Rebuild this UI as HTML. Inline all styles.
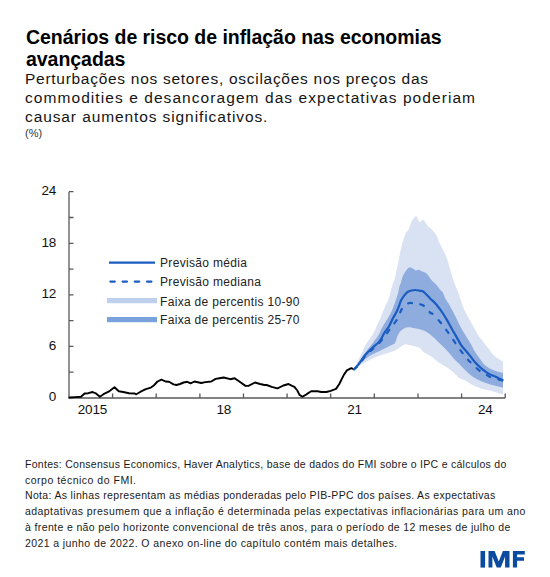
<!DOCTYPE html>
<html><head><meta charset="utf-8">
<style>
html,body{margin:0;padding:0;background:#fff;}
body{width:550px;height:577px;position:relative;overflow:hidden;font-family:"Liberation Sans",sans-serif;color:#111;}
.t{position:absolute;white-space:pre;left:0;top:0;}
#title{font-weight:bold;font-size:19.5px;line-height:22px;color:#000;letter-spacing:-0.04px;}
.sub{font-size:15.5px;line-height:18px;color:#151515;letter-spacing:0.85px;}
.foot{font-size:10.5px;line-height:16px;color:#1a1a1a;letter-spacing:0.27px;}
.lg{font-size:12px;color:#222;letter-spacing:0.32px;}
.ax{font-size:13.5px;color:#111;line-height:15px;letter-spacing:-0.2px;}
.yl{left:16px;width:40px;text-align:right;}
.xl{width:40px;text-align:center;}
svg{position:absolute;left:0;top:0;}
</style></head><body>
<div class="t" id="title" style="left:26px;top:26px;">Cenários de risco de inflação nas economias
avançadas</div>
<div class="t sub" style="left:25px;top:70px;letter-spacing:0.72px;">Perturbações nos setores, oscilações nos preços das</div>
<div class="t sub" style="left:25px;top:89px;letter-spacing:1.07px;">commodities e desancoragem das expectativas poderiam</div>
<div class="t sub" style="left:25px;top:108px;letter-spacing:0.9px;">causar aumentos significativos.</div>
<div class="t" style="left:25px;top:127px;font-size:11px;color:#333;">(%)</div>

<svg width="550" height="577" viewBox="0 0 550 577">
<path fill="#d9e2f3" d="M354.0,369.3 C355.4,366.3 360.4,355.8 362.4,351.5 C364.4,347.2 364.4,346.7 366.2,343.8 C367.9,340.9 370.7,338.3 372.9,334.3 C375.1,330.3 377.6,324.6 379.6,320.0 C381.6,315.4 383.4,310.4 385.0,306.8 C386.6,303.2 387.7,301.8 388.9,298.2 C390.1,294.6 391.4,288.4 392.4,285.0 C393.4,281.6 394.0,281.8 395.0,277.8 C396.0,273.8 397.4,266.6 398.5,261.1 C399.6,255.7 400.9,249.0 401.8,245.1 C402.7,241.2 403.4,239.8 404.1,237.7 C404.8,235.6 405.1,234.1 405.9,232.7 C406.6,231.3 407.8,231.1 408.6,229.5 C409.4,227.9 410.1,224.9 410.9,223.2 C411.7,221.5 412.3,220.3 413.2,219.1 C414.1,217.9 415.4,216.2 416.1,216.1 C416.9,216.0 417.1,217.6 417.7,218.6 C418.2,219.6 418.8,221.7 419.4,222.1 C420.0,222.5 420.7,221.3 421.4,220.9 C422.1,220.5 422.8,219.2 423.6,219.7 C424.4,220.2 425.6,222.9 426.4,224.1 C427.2,225.3 427.5,225.7 428.6,226.8 C429.7,227.9 432.1,229.7 433.2,230.9 C434.3,232.1 434.8,232.9 435.5,234.1 C436.2,235.3 436.9,236.4 437.7,238.2 C438.5,240.0 439.3,242.5 440.5,245.0 C441.7,247.5 443.6,250.6 444.7,253.1 C445.8,255.6 446.4,257.0 447.4,260.0 C448.4,263.0 449.5,267.3 450.6,270.9 C451.7,274.5 452.6,278.1 453.9,281.8 C455.2,285.5 456.8,288.5 458.5,293.1 C460.2,297.7 461.6,303.8 464.2,309.5 C466.8,315.2 471.7,323.2 474.0,327.5 C476.3,331.8 476.7,332.8 478.1,335.0 C479.5,337.2 480.9,338.8 482.2,340.5 C483.5,342.2 484.5,343.4 485.7,345.0 C486.9,346.6 488.3,348.3 489.6,350.0 C490.9,351.7 491.4,353.2 493.3,355.0 C495.2,356.8 499.4,359.4 501.0,360.5 C502.6,361.6 502.7,361.3 503.0,361.5 L503.0,394.5 C502.2,394.3 500.2,393.7 498.1,393.1 C496.0,392.5 493.2,391.4 490.5,390.7 C487.8,390.0 484.9,389.8 481.9,388.8 C478.9,387.9 475.1,386.4 472.4,385.0 C469.7,383.6 467.9,381.9 465.7,380.7 C463.5,379.5 461.1,379.4 459.1,378.0 C457.1,376.6 455.6,374.2 453.6,372.5 C451.6,370.8 449.6,369.3 447.1,367.6 C444.6,365.9 440.9,364.0 438.4,362.2 C435.8,360.4 434.2,358.3 431.8,356.7 C429.4,355.1 426.2,353.8 424.2,352.4 C422.2,350.9 421.2,349.0 419.8,348.0 C418.4,347.0 417.1,346.8 415.5,346.4 C413.9,345.9 411.8,345.6 410.0,345.3 C408.2,345.0 407.0,343.6 404.5,344.5 C402.0,345.4 398.5,348.9 395.0,350.5 C391.5,352.1 386.9,353.0 383.4,354.3 C379.9,355.6 377.0,356.7 373.8,358.1 C370.6,359.5 367.3,361.3 364.3,362.9 C361.3,364.5 357.4,366.6 355.7,367.7 C354.0,368.8 354.3,369.0 354.0,369.3 Z"/>
<path fill="#8eacdd" d="M354.0,369.3 C354.8,368.1 357.2,364.6 359.0,362.0 C360.8,359.4 362.5,356.4 364.7,353.4 C366.9,350.3 370.1,346.6 372.3,343.7 C374.5,340.8 376.4,338.5 377.9,336.1 C379.4,333.7 380.2,331.3 381.3,329.2 C382.4,327.1 383.4,325.4 384.5,323.5 C385.6,321.6 386.7,320.2 388.1,317.7 C389.5,315.2 391.2,312.2 392.8,308.4 C394.4,304.6 396.3,299.0 397.5,295.1 C398.7,291.2 399.3,286.9 399.8,285.0 C400.3,283.1 400.0,285.4 400.5,284.0 C401.0,282.6 401.7,278.6 402.6,276.4 C403.5,274.2 404.8,272.4 405.9,270.9 C407.0,269.4 408.1,268.1 409.2,267.6 C410.3,267.2 411.4,267.7 412.5,268.2 C413.6,268.7 414.7,270.1 415.7,270.4 C416.7,270.7 417.6,269.7 418.5,269.8 C419.4,269.9 419.8,270.3 421.2,270.9 C422.6,271.5 425.0,272.2 426.6,273.6 C428.2,275.1 429.4,277.7 431.0,279.6 C432.6,281.5 434.9,283.3 436.5,285.1 C438.1,286.9 439.7,289.2 440.8,290.5 C441.9,291.8 442.3,291.4 443.0,292.7 C443.7,294.0 444.3,296.4 445.2,298.2 C446.1,300.0 447.2,301.4 448.5,303.6 C449.8,305.8 451.7,309.3 452.8,311.3 C453.9,313.3 453.6,312.9 455.0,315.6 C456.4,318.3 458.3,322.8 460.9,327.5 C463.5,332.2 468.5,339.9 470.7,343.8 C472.9,347.7 472.9,348.4 474.3,350.7 C475.7,353.0 477.2,355.0 479.0,357.4 C480.8,359.8 482.7,363.0 484.8,365.0 C486.9,367.0 489.2,368.2 491.4,369.3 C493.6,370.4 496.2,371.1 498.1,371.7 C500.0,372.3 502.2,372.6 503.0,372.8 L503.0,387.4 C501.9,387.2 498.6,386.6 496.2,386.0 C493.8,385.4 491.3,384.9 488.6,384.0 C485.9,383.1 482.7,382.0 480.0,380.7 C477.3,379.4 474.8,378.1 472.4,376.4 C470.0,374.7 467.9,372.8 465.7,370.7 C463.5,368.6 461.1,365.9 459.1,363.8 C457.1,361.8 455.8,360.8 453.6,358.4 C451.4,356.0 448.7,352.5 446.0,349.6 C443.3,346.7 440.2,343.6 437.3,340.9 C434.4,338.2 431.1,335.1 428.5,333.3 C425.9,331.5 425.4,331.0 422.0,330.0 C418.6,329.0 411.6,327.4 408.4,327.3 C405.1,327.2 404.2,328.3 402.5,329.5 C400.8,330.7 399.4,332.3 398.2,334.5 C396.9,336.7 396.0,341.2 395.0,342.9 C394.0,344.6 394.4,343.5 392.0,344.8 C389.6,346.1 384.3,348.6 380.5,350.5 C376.7,352.4 372.6,354.0 369.1,356.2 C365.6,358.4 362.0,361.7 359.5,363.9 C357.0,366.1 354.9,368.4 354.0,369.3 Z"/>
<g stroke="#595959" stroke-width="1.3" fill="none">
<path d="M69,191.7 V398 H505.2"/>
<path d="M69,372.2 h4.5 M69,346.4 h4.5 M69,320.6 h4.5 M69,294.9 h4.5 M69,269.1 h4.5 M69,243.3 h4.5 M69,217.5 h4.5 M69,191.7 h4.5"/>
<path d="M112.6,398 v-4.5 M156.2,398 v-4.5 M199.9,398 v-4.5 M243.5,398 v-4.5 M287.1,398 v-4.5 M330.7,398 v-4.5 M374.3,398 v-4.5 M418.0,398 v-4.5 M461.6,398 v-4.5 M505.2,398 v-4.5"/>
</g>
<path fill="none" stroke="#000" stroke-width="1.9" stroke-linejoin="round" stroke-linecap="round" d="M69.4,397.5 L75.2,397.1 L81.0,396.7 L84.6,393.5 L88.3,393.2 L92.6,392.0 L96.3,393.7 L99.9,396.7 L103.5,394.2 L108.6,391.7 L114.5,387.3 L118.8,391.3 L123.2,392.0 L129.0,393.2 L134.8,393.5 L136.3,394.3 L140.6,391.7 L145.8,389.1 L150.9,387.6 L153.8,385.5 L157.5,381.5 L161.5,379.6 L165.5,381.5 L169.1,381.8 L173.5,384.4 L176.4,385.0 L180.0,384.0 L183.6,382.5 L187.3,381.8 L190.6,383.3 L194.5,381.5 L201.1,383.0 L205.5,382.1 L211.3,381.5 L215.6,378.9 L219.4,378.2 L223.7,377.5 L230.3,379.2 L234.6,378.2 L239.7,381.8 L245.5,385.9 L248.5,385.9 L255.0,382.5 L260.1,384.0 L264.5,385.0 L266.6,385.0 L271.7,386.9 L277.5,388.4 L283.4,385.5 L288.5,384.0 L292.1,385.9 L294.4,386.9 L297.3,390.5 L299.5,394.9 L302.4,396.7 L306.0,394.6 L311.1,391.3 L317.6,391.3 L321.3,392.0 L326.4,392.0 L330.7,390.8 L336.0,388.9 L339.3,384.0 L341.5,379.5 L343.6,375.3 L346.9,370.4 L351.3,368.2 L354.0,369.3"/>
<path fill="none" stroke="#1a5cc0" stroke-width="2.2" stroke-dasharray="3.9 8.4" stroke-linecap="round" d="M354.0,369.3 C354.8,368.6 357.1,367.0 359.0,364.8 C360.9,362.6 363.1,358.7 365.4,356.0 C367.7,353.3 370.7,351.0 373.0,348.8 C375.3,346.6 377.4,345.1 379.3,343.0 C381.2,340.9 382.8,338.8 384.5,336.5 C386.2,334.2 388.1,331.6 389.7,329.4 C391.3,327.2 393.1,325.0 394.4,323.2 C395.7,321.4 396.5,320.4 397.5,318.5 C398.5,316.6 399.7,313.3 400.6,311.5 C401.5,309.7 401.6,309.0 402.9,307.6 C404.2,306.2 406.4,304.0 408.4,303.3 C410.3,302.6 412.7,303.2 414.6,303.3 C416.6,303.4 418.3,303.6 420.1,304.2 C421.9,304.8 423.9,305.5 425.5,306.9 C427.1,308.3 428.6,311.1 429.9,312.4 C431.2,313.7 431.3,312.7 433.2,314.5 C435.1,316.3 439.0,320.6 441.3,323.4 C443.6,326.2 445.1,328.3 447.1,331.1 C449.2,333.9 451.2,337.0 453.6,340.4 C456.0,343.8 459.0,348.1 461.3,351.3 C463.6,354.5 465.9,357.3 467.6,359.3 C469.3,361.3 469.9,361.6 471.4,363.1 C472.9,364.6 475.1,366.9 476.7,368.3 C478.3,369.7 479.3,370.6 481.0,371.7 C482.7,372.8 485.0,374.1 486.7,375.0 C488.4,375.9 489.5,376.7 491.4,377.4 C493.3,378.1 496.1,378.8 498.1,379.3 C500.1,379.9 502.4,380.5 503.3,380.7"/>
<path fill="none" stroke="#1a5cc0" stroke-width="2.2" stroke-linejoin="round" d="M354.0,369.3 C354.8,368.5 356.6,366.9 358.5,364.5 C360.4,362.1 363.0,357.7 365.4,354.8 C367.8,351.9 370.7,349.4 373.0,347.2 C375.3,345.0 377.4,343.9 379.3,341.6 C381.2,339.3 382.5,335.8 384.1,333.3 C385.7,330.8 387.4,329.0 388.9,326.5 C390.3,324.0 391.5,321.0 392.8,318.5 C394.1,316.0 395.7,313.6 396.7,311.5 C397.7,309.4 398.3,307.8 399.0,306.0 C399.7,304.2 400.1,302.4 401.0,300.6 C401.9,298.8 403.3,296.6 404.5,295.1 C405.7,293.6 406.6,292.5 408.4,291.6 C410.1,290.8 413.1,290.1 415.0,290.0 C416.9,289.9 418.6,290.5 420.0,290.8 C421.4,291.1 421.8,290.4 423.4,291.6 C425.0,292.8 427.7,296.0 429.9,298.2 C432.1,300.4 434.3,302.1 436.5,304.7 C438.7,307.2 441.4,311.1 443.0,313.5 C444.6,315.9 444.7,316.1 446.3,318.9 C447.9,321.6 450.7,326.9 452.5,330.0 C454.3,333.1 455.4,335.1 456.9,337.6 C458.4,340.2 459.7,343.0 461.3,345.3 C462.9,347.6 465.2,349.9 466.7,351.7 C468.2,353.5 469.1,354.6 470.5,356.4 C471.9,358.2 473.3,360.5 475.2,362.6 C477.1,364.7 479.7,367.0 481.9,368.8 C484.1,370.6 486.2,372.2 488.6,373.6 C491.0,375.0 493.8,375.8 496.2,376.9 C498.6,378.0 502.1,379.8 503.3,380.4"/>
<line x1="109" y1="262.6" x2="155" y2="262.6" stroke="#1a5cc0" stroke-width="2.2"/>
<line x1="110.4" y1="281.6" x2="153.5" y2="281.6" stroke="#1a5cc0" stroke-width="2.2" stroke-linecap="round" stroke-dasharray="4.4 7.8"/>
<rect x="107" y="298" width="50" height="5.2" fill="#bdd0ee"/>
<rect x="107" y="317" width="50" height="5.2" fill="#79a1dc"/>
</svg>
<div class="t lg" style="left:160px;top:256px;">Previsão média</div>
<div class="t lg" style="left:160px;top:275px;">Previsão mediana</div>
<div class="t lg" style="left:160px;top:295px;">Faixa de percentis 10-90</div>
<div class="t lg" style="left:160px;top:313px;">Faixa de percentis 25-70</div>

<div class="t ax yl" style="top:183px;">24</div>
<div class="t ax yl" style="top:235px;">18</div>
<div class="t ax yl" style="top:286px;">12</div>
<div class="t ax yl" style="top:338px;">6</div>
<div class="t ax yl" style="top:389px;">0</div>
<div class="t ax xl" style="left:72.4px;top:402px;">2015</div>
<div class="t ax xl" style="left:203.7px;top:402px;">18</div>
<div class="t ax xl" style="left:334.5px;top:402px;">21</div>
<div class="t ax xl" style="left:465.2px;top:402px;">24</div>

<div class="t foot" style="left:25px;top:456px;letter-spacing:0.28px;">Fontes: Consensus Economics, Haver Analytics, base de dados do FMI sobre o IPC e cálculos do</div>
<div class="t foot" style="left:25px;top:472px;letter-spacing:0.5px;">corpo técnico do FMI.</div>
<div class="t foot" style="left:25px;top:487px;letter-spacing:0.33px;">Nota: As linhas representam as médias ponderadas pelo PIB-PPC dos países. As expectativas</div>
<div class="t foot" style="left:25px;top:503px;letter-spacing:0.43px;">adaptativas presumem que a inflação é determinada pelas expectativas inflacionárias para um ano</div>
<div class="t foot" style="left:25px;top:519px;letter-spacing:0.375px;">à frente e não pelo horizonte convencional de três anos, para o período de 12 meses de julho de</div>
<div class="t foot" style="left:25px;top:535px;letter-spacing:0.405px;">2021 a junho de 2022. O anexo on-line do capítulo contém mais detalhes.</div>

<svg style="position:absolute;left:0;top:0" width="550" height="577"><g fill="#0a4a9f"><rect x="480.5" y="551" width="4.6" height="16.6"/><polygon points="488.5,567.6 488.5,551 494.6,551 498.75,561.5 502.9,551 509.5,551 509.5,567.6 505.1,567.6 505.1,556.5 500.8,567.6 496.7,567.6 492.4,556.5 492.4,567.6"/><polygon points="512.9,567.6 512.9,551 524.8,551 524.8,554.4 517.1,554.4 517.1,557.2 524,557.2 524,560.8 517.1,560.8 517.1,567.6"/></g></svg>
</body></html>
